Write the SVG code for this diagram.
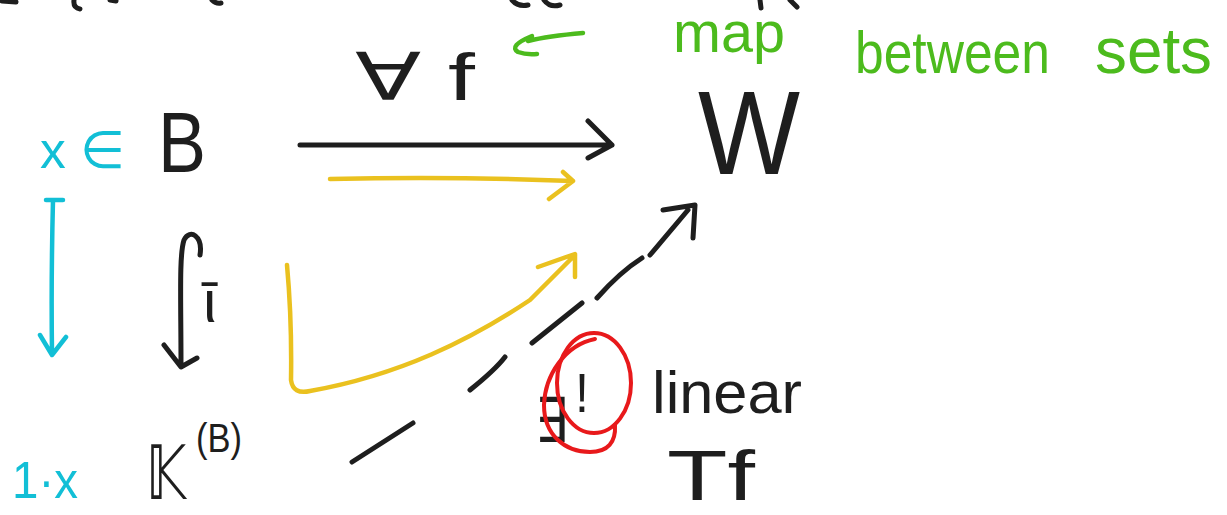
<svg xmlns="http://www.w3.org/2000/svg" width="1227" height="515" viewBox="0 0 1227 515">
<style>
.s{fill:none;stroke-linecap:round;stroke-linejoin:round}
.k{stroke:#1e1e1e;stroke-width:5}
.y{stroke:#eac11f;stroke-width:4.5}
.c{stroke:#12bfd6;stroke-width:4.5}
.g{stroke:#4cbb1d;stroke-width:4.5}
.r{stroke:#e8191b;stroke-width:4}
.t{font-family:"Liberation Sans","DejaVu Sans",sans-serif}
.tk{fill:#1e1e1e}
.tc{fill:#12bfd6}
.tg{fill:#4cbb1d}
</style>
<rect width="1227" height="515" fill="#ffffff"/>
<g id="top-fragments">
<path class="s k" stroke-width="4" d="M2,1 L16,2 M74,0 Q73,8 80,9 M110,0 L116,1 M212,0 Q216,4 221,3 M512,0 Q518,7 528,5 M544,0 Q550,8 560,5 M760,0 L761,8 M790,0 L797,7"/>
</g>
<g id="note-map">
<text class="t tg" x="673" y="52" font-size="58" textLength="112" lengthAdjust="spacingAndGlyphs">map</text>
<text class="t tg" x="855" y="73" font-size="60" textLength="195" lengthAdjust="spacingAndGlyphs">between</text>
<text class="t tg" x="1095" y="73" font-size="64" textLength="117" lengthAdjust="spacingAndGlyphs">sets</text>
<path class="s g" d="M583,33 Q548,36 528,41 M532,36 Q508,46 518,52 Q526,55 537,54"/>
</g>
<g id="label-forall-f">
<text class="t tk" x="355" y="100" font-size="66" textLength="120" lengthAdjust="spacingAndGlyphs">∀ f</text>
</g>
<g id="node-W">
<text class="t tk" x="698" y="174" font-size="118" textLength="102" lengthAdjust="spacingAndGlyphs">W</text>
</g>
<g id="node-B">
<text class="t tc" x="40" y="168" font-size="52" textLength="85" lengthAdjust="spacingAndGlyphs">x ∈</text>
<text class="t tk" x="158" y="172" font-size="86" textLength="48" lengthAdjust="spacingAndGlyphs">B</text>
</g>
<g id="node-K">
<text class="t tc" x="12" y="498" font-size="52" textLength="66" lengthAdjust="spacingAndGlyphs">1·x</text>
<text class="t tk" x="146" y="499" font-size="74" textLength="40" lengthAdjust="spacingAndGlyphs">𝕂</text>
<text class="t tk" x="196" y="452" font-size="40" textLength="46" lengthAdjust="spacingAndGlyphs">(B)</text>
</g>
<g id="node-linear">
<text class="t tk" x="535" y="442" font-size="62" textLength="33" lengthAdjust="spacingAndGlyphs">∃</text>
<text class="t tk" x="575" y="412" font-size="56" textLength="14" lengthAdjust="spacingAndGlyphs">!</text>
<ellipse class="s r" cx="594" cy="383" rx="37" ry="50"/>
<path class="s r" d="M595,339 C565,345 545,375 544,405 C544,435 565,452 590,452 C608,452 616,442 615,425"/>
<text class="t tk" x="652" y="413" font-size="60" textLength="150" lengthAdjust="spacingAndGlyphs">linear</text>
<text class="t tk" x="667" y="500" font-size="70" textLength="88" lengthAdjust="spacingAndGlyphs">Tf</text>
</g>
<g id="connectors">
<path class="s k" d="M300,145 L612,145 M588,121 L612,145 L588,158"/>
<path class="s y" d="M330,179 Q450,176 573,181 M563,172 L573,181 L549,199"/>
<path class="s c" d="M46,200 L63,200 M53,200 Q51,280 52,353 M40,335 L52,355 L66,337"/>
<path class="s k" d="M200,255 C203,236 190,228 184,240 C179,255 181,300 181,365 M164,345 L181,367 L197,358"/>
<text class="t tk" x="203" y="322" font-size="60">ῑ</text>
<path class="s y" d="M287,265 Q292,320 291,380 Q293,395 310,391 C400,375 470,340 530,300 Q555,275 575,255 M538,267 L575,254 L575,277"/>
<path class="s k" d="M352,462 L413,423 M470,390 Q495,370 505,357 M532,343 L582,303 M597,298 Q620,272 642,258 M650,255 L688,210 M663,210 L695,205 L693,238"/>
</g>
</svg>
